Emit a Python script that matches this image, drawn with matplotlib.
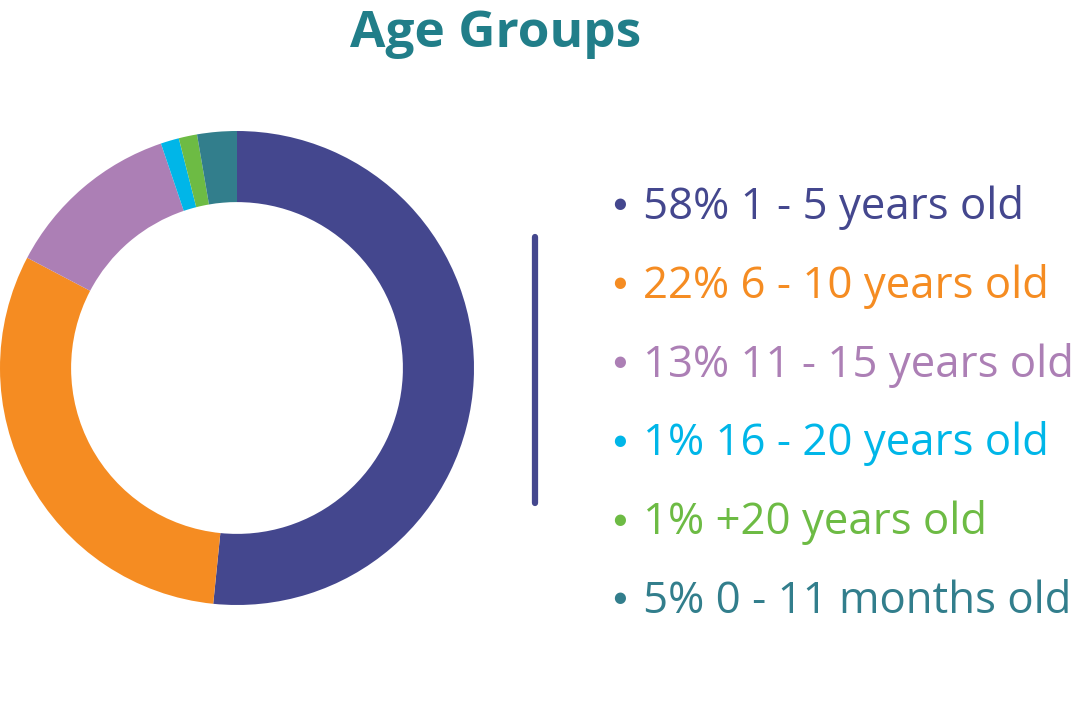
import matplotlib.pyplot as plt
from matplotlib.lines import Line2D

# slice sizes (share of the circle, %)
shares = [51.6, 31.1, 12.1, 1.25, 1.25, 2.7]
labels = ["58% 1 - 5 years old", "22% 6 - 10 years old", "13% 11 - 15 years old",
          "1% 16 - 20 years old", "1% +20 years old", "5% 0 - 11 months old"]
colors = ["#44478e", "#f58c22", "#ac7fb5", "#00b6e8", "#6dbb44", "#327e8c"]

W, H = 1090, 718
fig = plt.figure(figsize=(W / 100, H / 100), dpi=100)

# donut
ax = fig.add_axes([0 / W, 113 / H, 474 / W, 474 / H])
ax.pie(shares, colors=colors, startangle=90, counterclock=False, radius=1,
       wedgeprops=dict(width=0.30, linewidth=0))
ax.set_xlim(-1, 1)
ax.set_ylim(-1, 1)
ax.axis("off")

# title
fig.text(496 / W, 1 - 47 / H, "Age Groups", ha="center", va="baseline",
         fontsize=37, fontweight="bold", color="#217e89", family="Open Sans")

# separator line
fig.add_artist(Line2D([535 / W, 535 / W], [1 - 237 / H, 1 - 503 / H],
                      color="#44478e", linewidth=4.5, solid_capstyle="round"))

# legend
base0, dy = 219, 78.8
for i, (lab, col) in enumerate(zip(labels, colors)):
    b = base0 + i * dy
    fig.text(620 / W, 1 - (b - 15) / H, "\u25CF", ha="center", va="center",
             fontsize=10.5, color=col, family="DejaVu Sans")
    fig.text(643 / W, 1 - b / H, lab, ha="left", va="baseline", fontsize=31.5,
             color=col, family="Open Sans")

fig.savefig("out.png", dpi=100, facecolor="white")
